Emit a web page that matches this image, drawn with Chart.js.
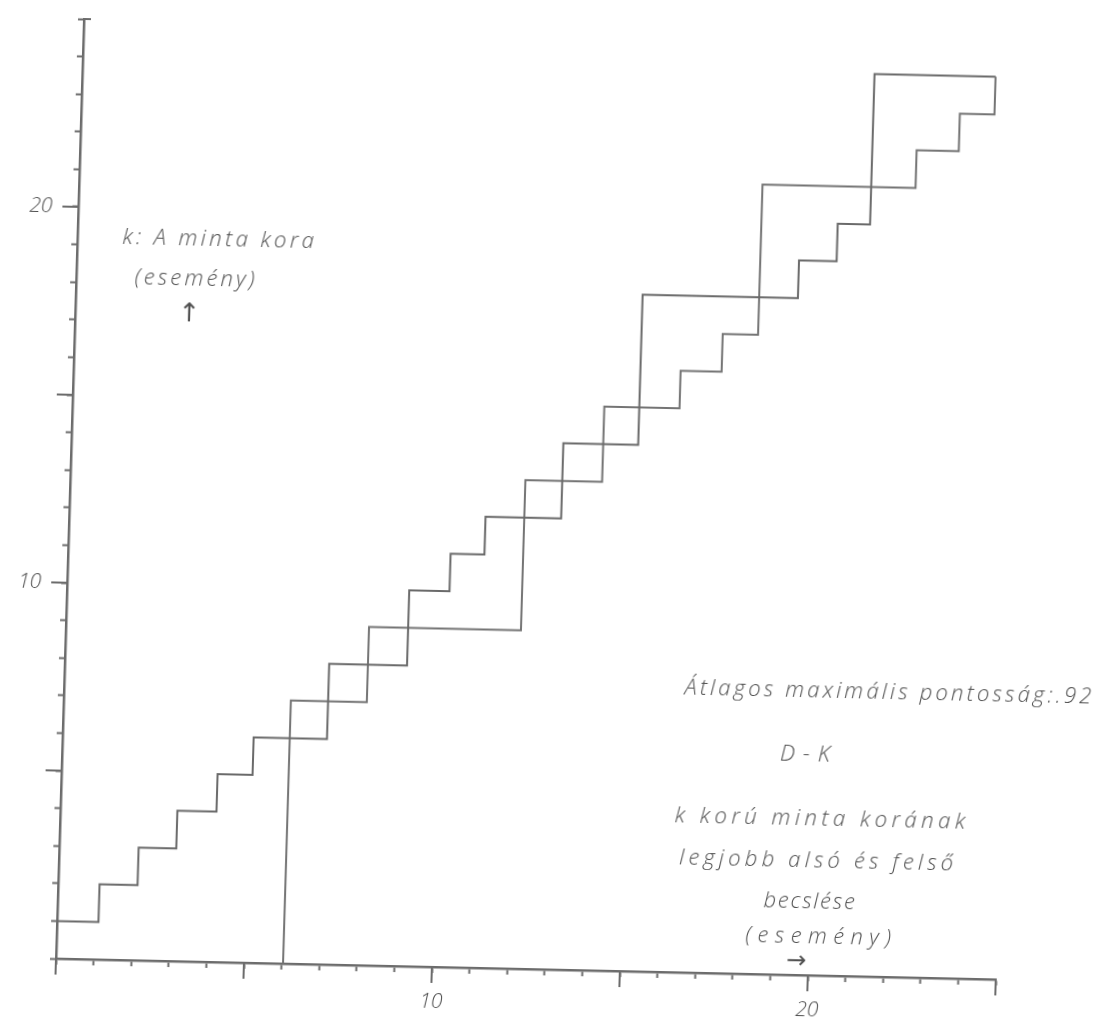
<!DOCTYPE html>
<html lang="hu">
<head>
    <meta charset="UTF-8">
    <title>D-K: a minta korának alsó és felső becslése</title>
    <script src="https://cdn.jsdelivr.net/npm/chart.js"></script>
    <style>
        html, body { margin: 0; padding: 0; background: #fff; }
        /* the scanned sheet sits slightly askew: tilt the whole plot the same way */
        #lap {
            position: relative; width: 1099px; height: 1032px;
            transform: matrix(1, 0.0222, -0.0298, 1, 0, 0);
            transform-origin: 56px 959px;
        }
    </style>
</head>
<body>
<div id="lap"><canvas id="chart" width="1099" height="1032"></canvas></div>

<script>
    // alsó lépcső: a k-adik lépésnél a szint
    const lowerX = [0, 1.10, 2.11, 3.11, 4.15, 5.08, 7.03, 9.10, 10.17, 11.07, 13.08, 15.07, 19.20, 20.20, 21.06, 24.28];
    const lowerY = [1, 2, 3, 4, 5, 6, 8, 10, 11, 12, 14, 18, 19, 20, 24, 24];

    // felső lépcső
    const upperX = [6.04, 6.04, 8.06, 12.10, 14.14, 16.14, 17.23, 18.17, 22.24, 23.36, 24.28];
    const upperY = [0, 7, 9, 13, 15, 16, 17, 21, 22, 23, 24];

    // tengelyek
    const xMin = 0, xMax = 25, yMin = 0, yMax = 25;
    const xLabelValues = [10, 20];
    const yLabelValues = [10, 20];
    const xMajor = [0, 5, 10, 15, 20, 25];
    const yMajor = [5, 10, 15, 20];

    const axisColor = '#6c6c6c';
    const inkColor = '#505050';
    const handFont = 'italic 300 22px "Open Sans", "DejaVu Sans", sans-serif';
    const tickFont = { family: '"Open Sans", "DejaVu Sans", sans-serif', size: 21, style: 'italic', weight: 300 };

    // kézzel írt megjegyzések (adat-koordinátákban, középre igazítva)
    const notes = [
        { text: 'k: A minta kora', x: 3.79, y: 19.22, w: 195 },
        { text: '(esemény)', x: 3.19, y: 18.14, w: 123 },
        { text: '↑', x: 3.03, y: 17.21, size: 26 },
        { text: 'Átlagos maximális pontosság:.92', x: 21.95, y: 7.57, w: 410 },
        { text: 'D-K', x: 19.86, y: 5.87, w: 58 },
        { text: 'k korú minta korának', x: 20.26, y: 4.15, w: 295 },
        { text: 'legjobb alsó és felső', x: 20.19, y: 3.03, w: 278 },
        { text: 'becslése', x: 20.0, y: 1.96, w: 93 },
        { text: '(esemény)', x: 20.33, y: 1.01, w: 152 },
        { text: '→', x: 19.68, y: 0.36, size: 24 }
    ];

    const toPoints = (xs, ys) => xs.map((x, i) => ({ x: x, y: ys[i] }));

    const extras = {
        id: 'extras',
        afterDraw(chart) {
            const { ctx, scales: { x, y } } = chart;
            const x0 = x.getPixelForValue(xMin);
            const y0 = y.getPixelForValue(yMin);
            ctx.save();
            // hosszabb főbeosztások
            ctx.strokeStyle = axisColor;
            ctx.lineWidth = 2;
            xMajor.forEach(v => {
                const px = x.getPixelForValue(v);
                ctx.beginPath(); ctx.moveTo(px, y0); ctx.lineTo(px, y0 + 16); ctx.stroke();
            });
            yMajor.forEach(v => {
                const py = y.getPixelForValue(v);
                ctx.beginPath(); ctx.moveTo(x0, py); ctx.lineTo(x0 - 16, py); ctx.stroke();
            });
            // a függőleges tengely felső kampója
            const yTop = y.getPixelForValue(yMax);
            ctx.beginPath(); ctx.moveTo(x0, yTop); ctx.lineTo(x0 + 7, yTop); ctx.stroke();

            // feliratok
            ctx.fillStyle = inkColor;
            ctx.textAlign = 'center';
            ctx.textBaseline = 'middle';
            notes.forEach(n => {
                ctx.font = n.size ? n.size + 'px "DejaVu Sans", sans-serif' : handFont;
                ctx.letterSpacing = '0px';
                if (n.w) {
                    const measured = ctx.measureText(n.text).width;
                    const extra = (n.w - measured) / n.text.length;
                    ctx.letterSpacing = extra.toFixed(2) + 'px';
                }
                ctx.fillText(n.text, x.getPixelForValue(n.x), y.getPixelForValue(n.y));
            });
            ctx.restore();
        }
    };

    new Chart(document.getElementById('chart'), {
        type: 'scatter',
        data: {
            datasets: [
                {
                    label: 'alsó becslés',
                    data: toPoints(lowerX, lowerY),
                    showLine: true,
                    stepped: 'before',
                    borderColor: '#6a6a6a',
                    borderWidth: 2,
                    pointRadius: 0,
                    fill: false
                },
                {
                    label: 'felső becslés',
                    data: toPoints(upperX, upperY),
                    showLine: true,
                    stepped: 'before',
                    borderColor: '#747474',
                    borderWidth: 2,
                    pointRadius: 0,
                    fill: false
                }
            ]
        },
        options: {
            responsive: false,
            animation: false,
            devicePixelRatio: 1,
            layout: { padding: { left: 0, top: 19, right: 103, bottom: 0 } },
            plugins: {
                legend: { display: false },
                tooltip: { enabled: false }
            },
            scales: {
                x: {
                    type: 'linear',
                    min: xMin,
                    max: xMax,
                    afterFit: s => { s.height = 73; s.paddingLeft = 0; s.paddingRight = 0; },
                    border: { display: true, color: axisColor, width: 2.5 },
                    grid: { drawOnChartArea: false, drawTicks: true, tickLength: 6, tickColor: axisColor, tickWidth: 2 },
                    ticks: {
                        stepSize: 1,
                        autoSkip: false,
                        maxTicksLimit: 40,
                        maxRotation: 0,
                        padding: 16,
                        color: inkColor,
                        font: tickFont,
                        callback: v => xLabelValues.includes(v) ? String(v) : ''
                    }
                },
                y: {
                    type: 'linear',
                    min: yMin,
                    max: yMax,
                    afterFit: s => { s.width = 56; s.paddingTop = 0; s.paddingBottom = 0; },
                    border: { display: true, color: axisColor, width: 2.5 },
                    grid: { drawOnChartArea: false, drawTicks: true, tickLength: 6, tickColor: axisColor, tickWidth: 2 },
                    ticks: {
                        stepSize: 1,
                        autoSkip: false,
                        maxTicksLimit: 40,
                        padding: 20,
                        color: inkColor,
                        font: tickFont,
                        callback: v => yLabelValues.includes(v) ? String(v) : ''
                    }
                }
            }
        },
        plugins: [extras]
    });
</script>
</body>
</html>
